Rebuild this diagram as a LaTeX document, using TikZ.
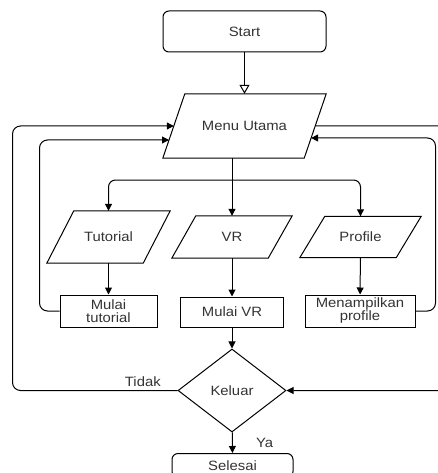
\documentclass[tikz,border=0pt]{standalone}
\usepackage{fontspec}
\setmainfont{Liberation Sans}[FakeStretch=1.1]
\usetikzlibrary{shapes.geometric, arrows.meta, calc}

\tikzset{
    txt/.style={text=black!80, font=\fontsize{13.5}{13}\selectfont},
    base/.style={txt, draw, line width=1pt, inner sep=0pt, align=center},
    terminal/.style={base, rectangle, rounded corners=6pt},
    io/.style={txt, rectangle, inner sep=0pt, align=center},
    process/.style={base, rectangle},
    decision/.style={base, diamond},
    arr/.style={line width=1pt, -{Triangle[length=7pt, width=7pt]}},
}

% parallelogram outline round an io node: #1 = node, #2 = half the slant offset
\newcommand{\slantbox}[2]{%
    \draw[line width=1pt] ($(#1.south west)+(-#2, 0)$) -- ($(#1.north west)+(#2, 0)$)
        -- ($(#1.north east)+(#2, 0)$) -- ($(#1.south east)+(-#2, 0)$) -- cycle;}

\begin{document}
\begin{tikzpicture}[x=1pt, y=-1pt]
    \useasboundingbox (0, 0) rectangle (438, 473);

    % Start and menu
    \node[terminal, minimum width=163, minimum height=41] (start) at (244.5, 31.5) {Start};
    \node[io, minimum width=141, minimum height=64] (menu) at (244.5, 126) {Menu Utama};
    \slantbox{menu}{11}

    % Menu options
    \node[io, minimum width=96, minimum height=52] (tut) at (108.5, 237) {Tutorial};
    \node[io, minimum width=96, minimum height=42] (vr) at (232, 237) {VR};
    \node[io, minimum width=96, minimum height=41] (prof) at (360.5, 237) {Profile};
    \slantbox{tut}{13.5}
    \slantbox{vr}{12}
    \slantbox{prof}{12.5}

    % Processes
    \node[process, minimum width=97, minimum height=32] (mtut) at (108.5, 311) {Mulai\\tutorial};
    \node[process, minimum width=103, minimum height=30] (mvr) at (232, 312) {Mulai VR};
    \node[process, minimum width=110, minimum height=32] (mprof) at (360, 311) {Menampilkan\\profile};

    % Exit
    \node[decision, minimum width=108, minimum height=83] (kel) at (232, 390.5) {Keluar};
    \node[terminal, minimum width=121, minimum height=24] (sel) at (232.5, 465.5) {Selesai};

    % Entry points on the menu sides
    \coordinate (inL) at ($(menu.west)+(-4.8, 14)$);
    \coordinate (inR) at ($(menu.east)+(-4.1, 12)$);
    \coordinate (split) at ($(vr.north |- 0, 180)$);

    % Main flow
    \draw[line width=1pt, -{Triangle[open, length=9pt, width=10pt]}] (start) -- (menu);
    \draw[line width=1pt] (vr.north |- menu.south) -- (split);
    \draw[arr] (split) -- (vr.north);
    \draw[arr, rounded corners=7pt] (split) -| (tut.north);
    \draw[arr, rounded corners=7pt] (split) -| (prof.north);
    \draw[arr] (tut) -- (mtut);
    \draw[arr] (vr) -- (mvr);
    \draw[arr] (prof) -- (mprof);
    \draw[arr] (mvr) -- (kel);
    \draw[arr] (kel) -- node[txt, right, xshift=20pt] {Ya} (sel);

    % Loops back to the menu
    \draw[arr, rounded corners=8pt] (mtut.west) -- ++(-20, 0) |- (inL);
    \draw[arr, rounded corners=8pt] (mprof.east) -- ++(20, 0) |- (inR);
    \draw[arr, rounded corners=8pt] (kel.west) -- node[txt, above, pos=0.21] {Tidak}
        ++(-165, 0) |- (menu.west);
    \draw[arr, rounded corners=8pt] (menu.east) -- ++(140, 0) |- (kel.east);
\end{tikzpicture}
\end{document}
